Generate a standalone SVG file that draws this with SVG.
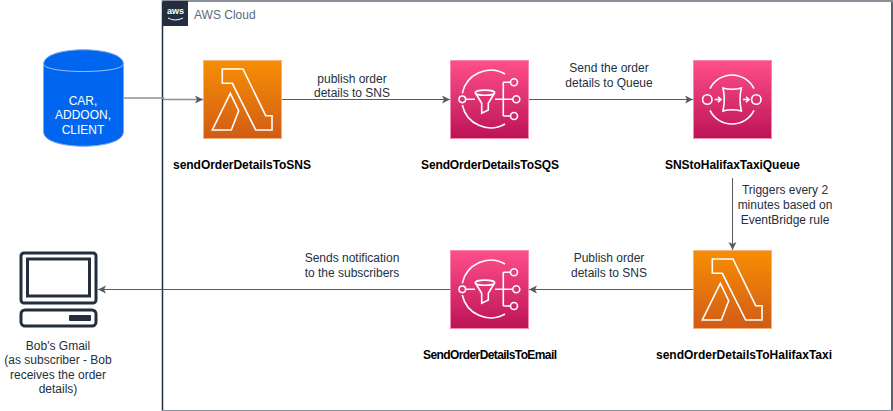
<svg xmlns="http://www.w3.org/2000/svg" width="893" height="411" viewBox="0 0 893 411">
<style>
text{font-family:"Liberation Sans",Arial,sans-serif;font-size:12px;fill:#232f3e;text-anchor:middle}
.b{font-weight:bold;fill:#000}
.w{fill:none;stroke:#fff;stroke-width:1.6}
.c{fill:none;stroke:#545b64;stroke-width:1}
</style>
<defs>
<marker id="a" markerUnits="userSpaceOnUse" markerWidth="9" markerHeight="9" refX="8" refY="4" orient="auto"><path d="M0 0L8 4L0 8L2 4Z" fill="#545b64"/></marker>
<linearGradient id="o" x1="0" y1="0" x2="0" y2="1"><stop offset="0" stop-color="#f78e04"/><stop offset="1" stop-color="#d05c17"/></linearGradient>
<linearGradient id="p" x1="0" y1="0" x2="0" y2="1"><stop offset="0" stop-color="#ff4f8b"/><stop offset="1" stop-color="#bc1356"/></linearGradient>
<g id="lam"><rect x=".5" y=".5" width="78" height="78" fill="url(#o)" stroke="#f3b27a" stroke-width="1"/><path class="w" d="M19.300 9H40L62.700 55.700H69V70H52.700L29.300 23.300H19.300ZM27.300 33.300L9.300 70H28.300L35.700 50.700Z"/></g>
<g id="sns"><rect x=".5" y=".5" width="78" height="78" fill="url(#p)" stroke="#f58ab0" stroke-width="1"/><g class="w"><path d="M55 14A29 29 0 0 0 12.300 33.300M12.300 45A29 29 0 0 0 55 64"/><circle cx="12.300" cy="39.300" r="3.300"/><path d="M15.600 39.300H25M45 39.300H62.800M53.300 22.300V56M53.300 22.300H60.500M53.300 56H60.500M25.500 33L31.700 43.300V53.300L38.300 50V43.300L44.500 33"/><ellipse cx="35" cy="32.700" rx="9.800" ry="2.600"/><circle cx="64" cy="22.300" r="3.500"/><circle cx="66.300" cy="39.300" r="3.500"/><circle cx="64" cy="56" r="3.500"/></g></g>
</defs>
<g id="cloud"><path d="M162.500 0V411M892 0V411" fill="none" stroke="#232f3e" stroke-width="1.500"/><rect x="162" y="0" width="731" height="2" fill="#8a9099"/><rect x="162" y="410" width="731" height="1" fill="#8a9099"/><rect x="163" y="1" width="25" height="25" fill="#232f3e"/><text x="175.500" y="14" style="font-size:9px;font-weight:bold;fill:#fff">aws</text><path d="M168 18Q175 22 183 18" fill="none" stroke="#fff" stroke-width="1"/><text x="194" y="19" style="text-anchor:start;fill:#5a6b7b">AWS Cloud</text></g>
<g id="db"><path d="M43.500 64C43.500 45 123.500 45 123.500 64V132C123.500 151 43.500 151 43.500 132Z" fill="#0066f0" stroke="#7fa8e8"/><path d="M43.500 64C43.500 74 123.500 74 123.500 64" fill="none" stroke="#9cc0f0"/><text x="83" y="105" style="fill:#fff">CAR,</text><text x="83" y="119" style="fill:#fff">ADDOON,</text><text x="83" y="134" style="fill:#fff">CLIENT</text></g>
<g id="connectors">
<path d="M124 98H163.500V99.500H203" fill="none" stroke="#8a9099" stroke-width="1.300" marker-end="url(#a)"/>
<path class="c" d="M282 99.500H450" marker-end="url(#a)"/>
<path class="c" d="M529 99.500H693" marker-end="url(#a)"/>
<path class="c" d="M732.500 178V250" marker-end="url(#a)"/>
<path class="c" d="M693 289.500H529" marker-end="url(#a)"/>
<path class="c" d="M450 289.500H98" marker-end="url(#a)"/>
</g>
<g id="n1"><use href="#lam" x="203" y="60"/><text class="b" x="242" y="169" textLength="138">sendOrderDetailsToSNS</text></g>
<g id="n2"><use href="#sns" x="450" y="60"/><text class="b" x="490" y="169" textLength="138">SendOrderDetailsToSQS</text></g>
<g id="n3"><rect x="693.500" y="60.500" width="78" height="78" fill="url(#p)" stroke="#f58ab0"/><g class="w"><path d="M710 88.700A24.500 24.500 0 0 1 754 88.700M710 110.300A24.500 24.500 0 0 0 754 110.300"/><circle cx="707.300" cy="99.500" r="4.700"/><circle cx="756.300" cy="99.500" r="4.700"/><path d="M714.700 99.500H720.700M718 96.800L721 99.500L718 102.200M743 99.500H749M746 96.800L749 99.500L746 102.200M723 88Q732 90.500 741.300 88Q738.800 99.500 741.300 111Q732 108.500 723 111Q725.500 99.500 723 88Z"/></g><text class="b" x="732.500" y="169" textLength="135">SNStoHalifaxTaxiQueue</text></g>
<g id="n4"><use href="#lam" x="693" y="250"/><text class="b" x="744" y="359" textLength="176">sendOrderDetailsToHalifaxTaxi</text></g>
<g id="n5"><use href="#sns" x="450" y="250"/><text class="b" x="490" y="359" textLength="134">SendOrderDetailsToEmail</text></g>
<g id="n6"><g fill="none" stroke="#232f3e" stroke-width="3"><rect x="21" y="253" width="75" height="50" rx="3"/><rect x="27.500" y="259" width="62" height="37"/><rect x="21" y="310" width="75" height="16" rx="4"/></g><rect x="69" y="315" width="22" height="6" rx="1" fill="#232f3e"/><text x="58" y="350">Bob's Gmail</text><text x="58" y="364">(as subscriber - Bob</text><text x="58" y="379">receives the order</text><text x="58" y="393">details)</text></g>
<g id="labels">
<text x="352" y="83">publish order</text><text x="352" y="97">details to SNS</text>
<text x="609" y="72">Send the order</text><text x="609" y="87">details to Queue</text>
<text x="785" y="194">Triggers every 2</text><text x="785" y="209">minutes based on</text><text x="785" y="224">EventBridge rule</text>
<text x="609" y="262">Publish order</text><text x="609" y="277">details to SNS</text>
<text x="352" y="262">Sends notification</text><text x="352" y="277">to the subscribers</text>
</g>
</svg>
